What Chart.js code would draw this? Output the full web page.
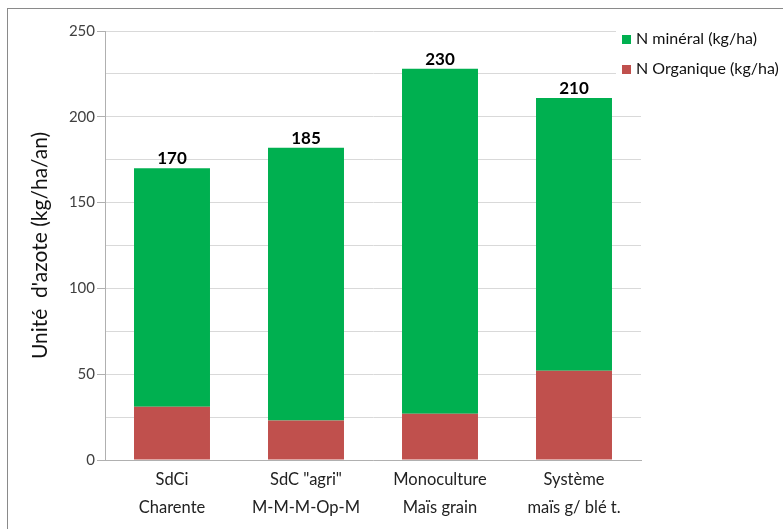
<!DOCTYPE html>
<html>
<head>
<meta charset="utf-8">
<script src="https://cdn.jsdelivr.net/npm/chart.js@4.4.1/dist/chart.umd.min.js"></script>
<style>
  html, body { margin: 0; padding: 0; background: #fff; }
  #wrap { width: 783px; height: 529px; position: relative; }
</style>
</head>
<body>
<div id="wrap"><canvas id="myChart" width="783" height="529"></canvas></div>
<script>
const categories = [
  ['SdCi', 'Charente'],
  ['SdC "agri"', 'M-M-M-Op-M'],
  ['Monoculture', 'Maïs grain'],
  ['Système', 'maïs g/ blé t.']
];
const organique = [31, 23, 27, 52];
const mineral = [139, 159, 201, 159];
const totalLabels = ['170', '185', '230', '210'];
const seriesNames = ['N minéral (kg/ha)', 'N Organique (kg/ha)'];
const green = '#00B050';
const red = '#C0504D';
const font = 'Lato, "Liberation Sans", sans-serif';

// frame + legend + labels above bars
const extras = {
  id: 'extras',
  beforeDraw(chart) {
    const c = chart.ctx;
    c.save();
    c.strokeStyle = '#8a8a8a';
    c.lineWidth = 1;
    c.strokeRect(7.5, 8.5, 1000, 1000);
    c.restore();
  },
  afterDatasetsDraw(chart) {
    const c = chart.ctx;
    const top = chart.getDatasetMeta(1).data;
    c.save();
    c.font = 'bold 17px ' + font;
    c.fillStyle = '#000';
    c.textAlign = 'center';
    c.textBaseline = 'bottom';
    top.forEach((bar, i) => {
      c.fillText(totalLabels[i], bar.x, bar.y - 1);
    });
    c.restore();
  },
  afterDraw(chart) {
    const c = chart.ctx;
    c.save();
    c.fillStyle = '#fff';
    c.fillRect(616, 20, 160, 62);
    c.font = '16px ' + font;
    c.textBaseline = 'middle';
    const cols = [green, red];
    seriesNames.forEach((name, i) => {
      const y = 39 + i * 30;
      c.fillStyle = cols[i];
      c.fillRect(622, y - 4, 9, 9);
      c.fillStyle = '#111';
      c.fillText(name, 636, y);
    });
    c.restore();
  }
};

const data = {
  labels: categories,
  datasets: [
    {
      label: seriesNames[1],
      data: organique,
      backgroundColor: red,
      categoryPercentage: 1,
      barPercentage: 0.567
    },
    {
      label: seriesNames[0],
      data: mineral,
      backgroundColor: green,
      categoryPercentage: 1,
      barPercentage: 0.567
    }
  ]
};

const config = {
  type: 'bar',
  data: data,
  options: {
    responsive: false,
    animation: false,
    layout: { padding: { left: 28, top: 31, right: 142, bottom: 0 } },
    plugins: {
      legend: { display: false },
      tooltip: { enabled: false }
    },
    scales: {
      x: {
        stacked: true,
        grid: { display: false, drawTicks: false },
        border: { color: '#b0b0b0' },
        ticks: {
          color: '#222',
          font: { family: font, size: 16.5, lineHeight: 1.72 },
          padding: 5,
          maxRotation: 0
        },
        afterFit(scale) { scale.height = 69; }
      },
      y: {
        stacked: true,
        min: 0,
        max: 250,
        ticks: {
          stepSize: 25,
          color: '#404040',
          font: { family: font, size: 15 },
          padding: 2,
          callback: v => (v % 50 === 0 ? v : '')
        },
        grid: {
          color: '#d9d9d9',
          tickLength: 8,
          tickColor: ctx => (ctx.tick && ctx.tick.value % 50 === 0 ? '#b0b0b0' : 'rgba(0,0,0,0)')
        },
        border: { color: '#b0b0b0' },
        title: {
          display: true,
          text: 'Unité  d\'azote (kg/ha/an)',
          color: '#111',
          font: { family: font, size: 21 },
          padding: { top: 0, bottom: 4 }
        },
        afterFit(scale) { scale.width = 77; }
      }
    }
  },
  plugins: [extras]
};

var myChart = new Chart(document.getElementById('myChart'), config);
</script>
</body>
</html>
